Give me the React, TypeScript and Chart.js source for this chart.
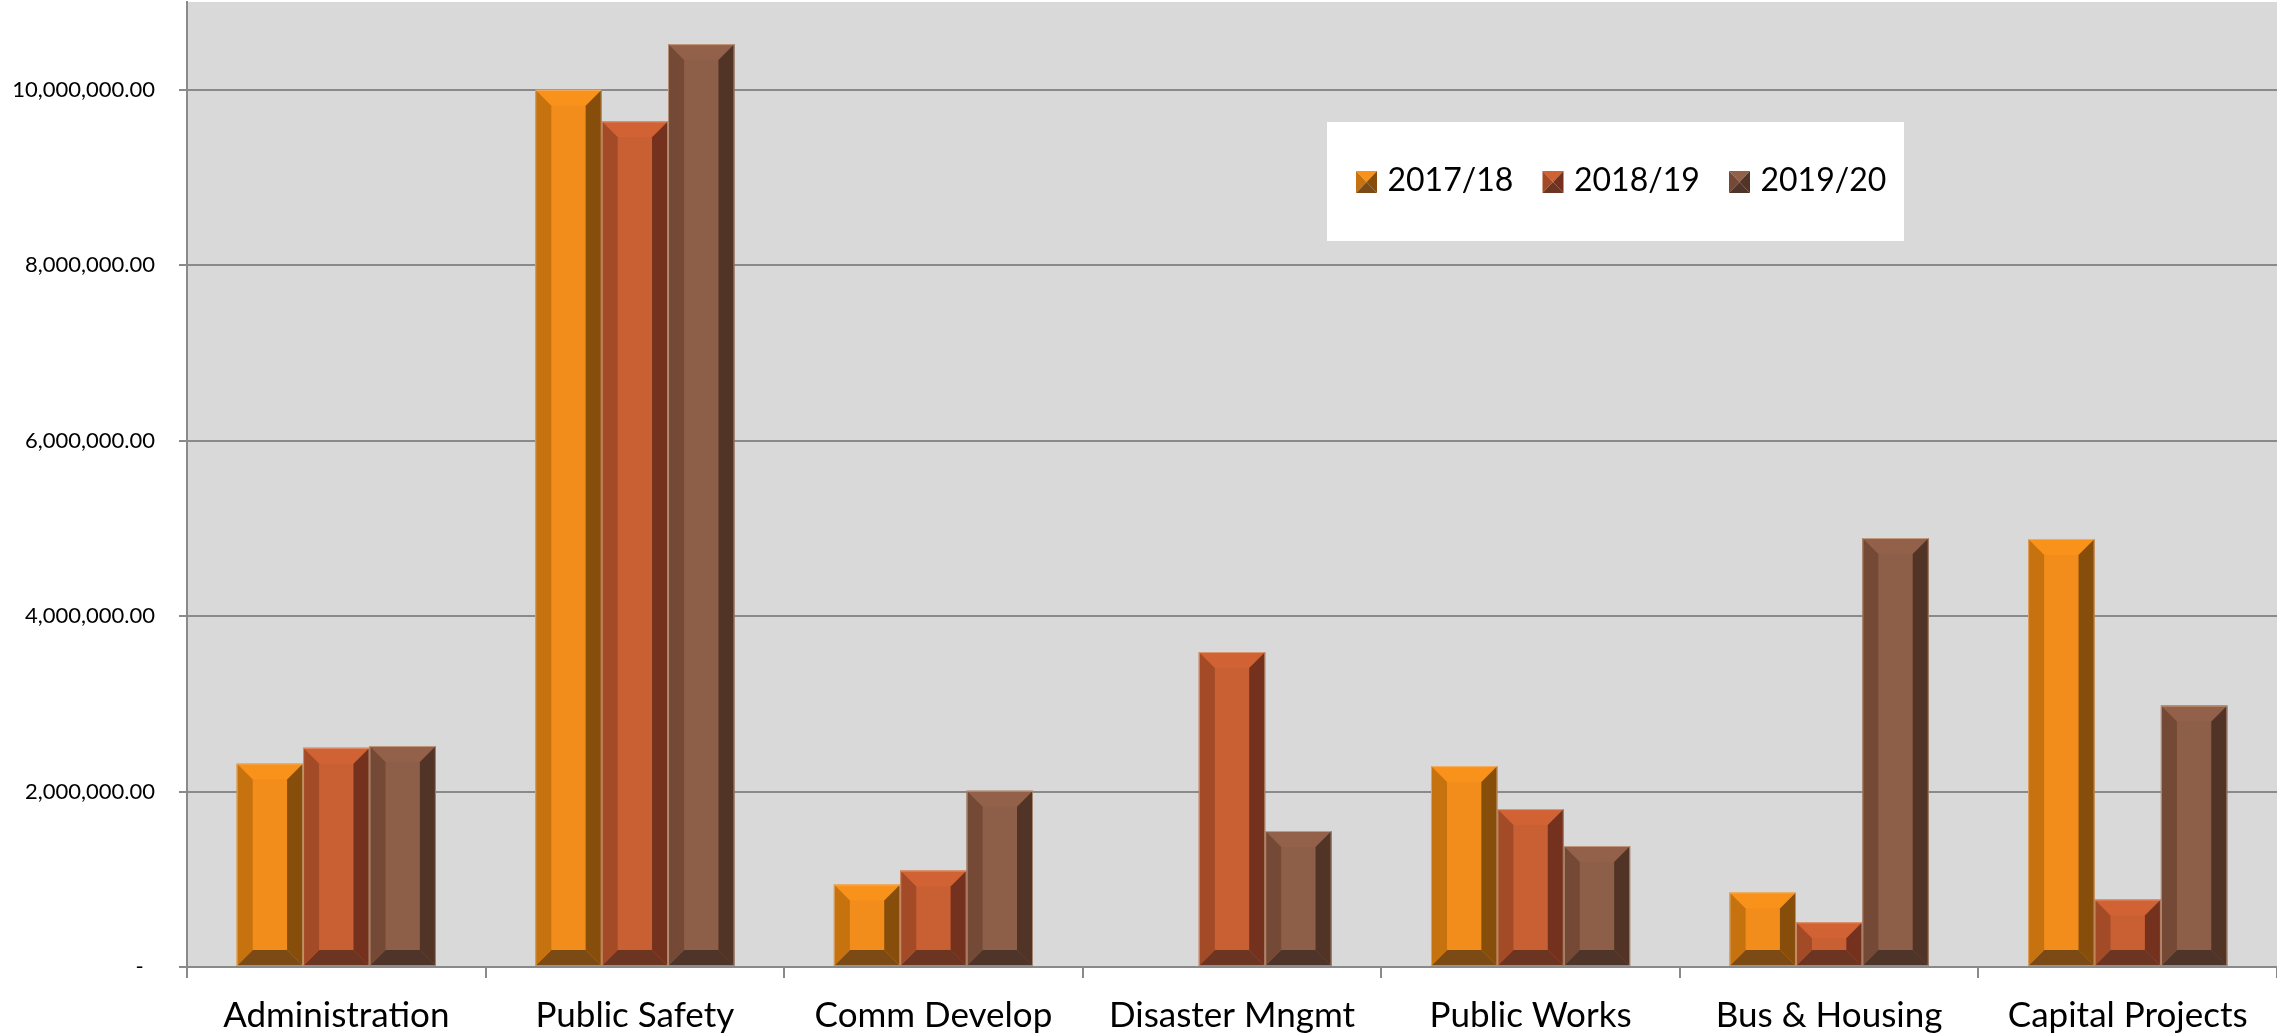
import React, { useEffect, useRef } from 'react';
import { Chart, registerables } from 'chart.js';

Chart.register(...registerables);

const categories = ['Administration', 'Public Safety', 'Comm Develop', 'Disaster Mngmt', 'Public Works', 'Bus & Housing', 'Capital Projects'];
const seriesLabels = ['2017/18', '2018/19', '2019/20'];
const values2017 = [2320000, 10000000, 940000, 0, 2290000, 850000, 4880000];
const values2018 = [2500000, 9640000, 1100000, 3590000, 1800000, 510000, 770000];
const values2019 = [2520000, 10520000, 2010000, 1550000, 1380000, 4890000, 2980000];
const yTickValues = [0, 2000000, 4000000, 6000000, 8000000, 10000000];
const yMax = 11000000;

const shades = [
  { face: '#f28c1a', top: '#f8921a', left: '#c5720f', right: '#874e0b', bottom: '#7c4a14' },
  { face: '#c96034', top: '#d06234', left: '#a34a27', right: '#74321e', bottom: '#6b3521' },
  { face: '#8e5f48', top: '#93614a', left: '#744a36', right: '#513426', bottom: '#4f3429' },
];

const FONT = 'Lato, "Open Sans", sans-serif';

const bgPlugin = {
  id: 'plotBg',
  beforeDraw(chart: any) {
    const { ctx, chartArea } = chart;
    ctx.save();
    ctx.fillStyle = '#ffffff';
    ctx.fillRect(0, 0, chart.width, chart.height);
    ctx.fillStyle = '#d9d9d9';
    ctx.fillRect(chartArea.left, chartArea.top, chartArea.right - chartArea.left, chartArea.bottom - chartArea.top);
    ctx.restore();
  },
};

function poly(ctx: CanvasRenderingContext2D, pts: number[][], color: string) {
  ctx.beginPath();
  ctx.moveTo(pts[0][0], pts[0][1]);
  for (let i = 1; i < pts.length; i++) ctx.lineTo(pts[i][0], pts[i][1]);
  ctx.closePath();
  ctx.fillStyle = color;
  ctx.fill();
}

const bevelPlugin = {
  id: 'bevel',
  afterDatasetsDraw(chart: any) {
    const ctx: CanvasRenderingContext2D = chart.ctx;
    ctx.save();
    chart.data.datasets.forEach((ds: any, di: number) => {
      const meta = chart.getDatasetMeta(di);
      const s = shades[di];
      meta.data.forEach((el: any) => {
        const p = el.getProps(['x', 'y', 'base', 'width'], true);
        const l = p.x - p.width / 2;
        const r = p.x + p.width / 2;
        const t = Math.min(p.y, p.base);
        const b = Math.max(p.y, p.base);
        const h = b - t;
        if (h < 1) return;
        const bv = Math.min(16, p.width / 2, h / 2);
        poly(ctx, [[l, t], [r, t], [r - bv, t + bv], [l + bv, t + bv]], s.top);
        poly(ctx, [[l, b], [r, b], [r - bv, b - bv], [l + bv, b - bv]], s.bottom);
        poly(ctx, [[l, t], [l + bv, t + bv], [l + bv, b - bv], [l, b]], s.left);
        poly(ctx, [[r, t], [r - bv, t + bv], [r - bv, b - bv], [r, b]], s.right);
        ctx.strokeStyle = 'rgba(235,200,170,0.55)';
        ctx.lineWidth = 1;
        ctx.strokeRect(l + 0.5, t + 0.5, p.width - 1, h - 1);
      });
    });
    ctx.restore();
  },
};

const legendPlugin = {
  id: 'boxLegend',
  afterDraw(chart: any) {
    const ctx: CanvasRenderingContext2D = chart.ctx;
    const box = { x: 1327, y: 122, w: 577, h: 119 };
    ctx.save();
    ctx.fillStyle = '#ffffff';
    ctx.fillRect(box.x, box.y, box.w, box.h);
    const cy = 181;
    chart.data.datasets.forEach((ds: any, i: number) => {
      const s = shades[i];
      const mx = 1356 + i * 186.5;
      const ms = 21;
      const mh = 22;
      const my = cy - 10;
      const cx = mx + ms / 2;
      const ccy = my + mh / 2;
      poly(ctx, [[mx, my], [mx + ms, my], [cx, ccy]], s.top);
      poly(ctx, [[mx, my], [cx, ccy], [mx, my + mh]], s.left);
      poly(ctx, [[mx + ms, my], [cx, ccy], [mx + ms, my + mh]], s.right);
      poly(ctx, [[mx, my + mh], [cx, ccy], [mx + ms, my + mh]], s.bottom);
      ctx.fillStyle = '#000000';
      ctx.font = `32px ${FONT}`;
      ctx.textAlign = 'left';
      ctx.textBaseline = 'middle';
      ctx.fillText(ds.label, mx + 31.5, cy);
    });
    ctx.restore();
  },
};

export default function App() {
  const ref = useRef<HTMLCanvasElement>(null);
  useEffect(() => {
    document.body.style.margin = '0';
    const seriesValues = [values2017, values2018, values2019];
    const chart = new Chart(ref.current as HTMLCanvasElement, {
      type: 'bar',
      data: {
        labels: categories,
        datasets: seriesLabels.map((label, i) => ({
          label,
          data: seriesValues[i],
          backgroundColor: shades[i].face,
          borderWidth: 0,
          categoryPercentage: 0.667,
          barPercentage: 1.0,
        })),
      },
      options: {
        responsive: false,
        animation: false,
        layout: { padding: { top: 2, left: 0, right: 0, bottom: 0 } },
        plugins: {
          legend: { display: false },
          tooltip: { enabled: false },
        },
        scales: {
          x: {
            afterFit(scale: any) {
              scale.height = 67;
              scale.paddingLeft = 0;
              scale.paddingRight = 0;
            },
            grid: {
              offset: true,
              drawOnChartArea: false,
              drawTicks: true,
              tickLength: 11,
              color: '#8a8a8a',
              lineWidth: 2,
            },
            border: { display: true, color: '#8a8a8a', width: 2 },
            ticks: {
              color: '#000000',
              font: { family: FONT, size: 35 },
              maxRotation: 0,
              autoSkip: false,
              padding: 17,
            },
          },
          y: {
            min: 0,
            max: yMax,
            afterFit(scale: any) {
              scale.width = 187;
              scale.paddingTop = 0;
              scale.paddingBottom = 0;
            },
            afterBuildTicks(scale: any) { scale.ticks = yTickValues.map((v) => ({ value: v })); },
            grid: {
              color: '#8a8a8a',
              lineWidth: 2,
              drawTicks: true,
              tickLength: 8,
            },
            border: { display: true, color: '#8a8a8a', width: 2 },
            ticks: {
              color: '#000000',
              font: { family: FONT, size: 22 },
              padding: 24,
              callback(value: any) {
                const v = Number(value);
                if (v === 0) return '-  ';
                return v.toLocaleString('en-US', { minimumFractionDigits: 2, maximumFractionDigits: 2 });
              },
            },
          },
        },
      },
      plugins: [bgPlugin, bevelPlugin, legendPlugin],
    } as any);
    return () => chart.destroy();
  }, []);
  return (
    <div style={{ position: 'fixed', left: 0, top: 0, width: 2277, height: 1034 }}>
      <canvas ref={ref} width={2277} height={1034} style={{ display: 'block', width: 2277, height: 1034 }} />
    </div>
  );
}
